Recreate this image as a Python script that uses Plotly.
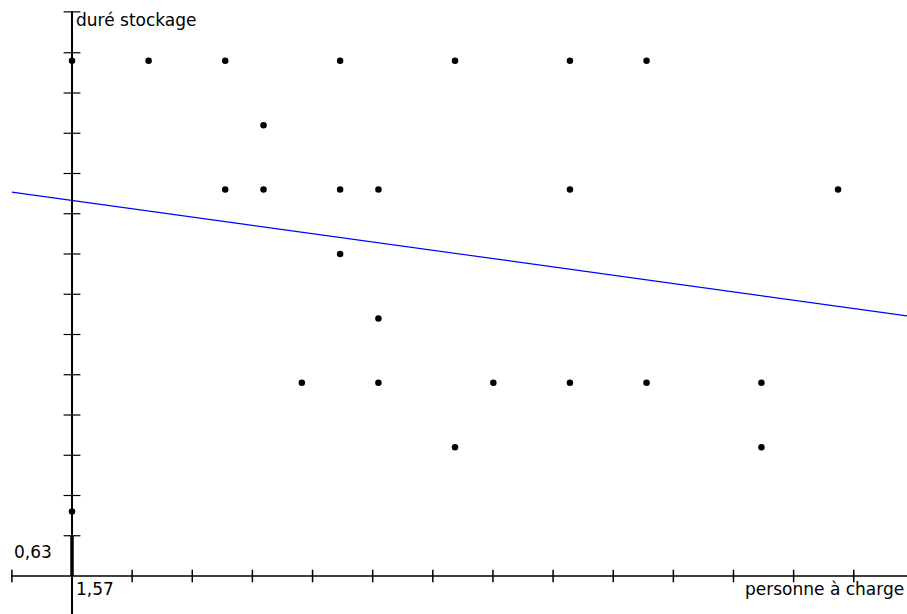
import plotly.graph_objects as go

# ---- data ----
pers_charge = [0, 2, 4, 7, 10, 13, 15,
               5,
               4, 5, 7, 8, 13, 20,
               7,
               8,
               6, 8, 11, 13, 15, 18,
               10, 18,
               0]
duree_stockage = [8, 8, 8, 8, 8, 8, 8,
                  7,
                  6, 6, 6, 6, 6, 6,
                  5,
                  4,
                  3, 3, 3, 3, 3, 3,
                  2, 2,
                  1]

x_tick_step = 1.57
y_tick_step = 0.625
x_tick_label = "1,57"
y_tick_label = "0,63"
x_title = "personne à charge"
y_title = "duré stockage"

trend_intercept = 5.832
trend_slope = -0.0822

# ---- layout constants ----
x_range = [-1.88, 21.80]
y_range = [-0.59, 8.944]
y_axis_top = 8.76
n_x_ticks = 13
n_y_ticks = 13

FONT = "DejaVu Sans"
FS = 17

fig = go.Figure()

# regression line
tx = [-x_tick_step, x_range[1]]
ty = [trend_intercept + trend_slope * v for v in tx]
fig.add_trace(go.Scatter(x=tx, y=ty, mode="lines",
                         line=dict(color="#0000FF", width=1.2),
                         hoverinfo="skip"))

# axes lines
fig.add_trace(go.Scatter(x=[-x_tick_step, x_range[1]], y=[0, 0], mode="lines",
                         line=dict(color="black", width=1.4), hoverinfo="skip"))
fig.add_trace(go.Scatter(x=[0, 0], y=[y_range[0], y_axis_top], mode="lines",
                         line=dict(color="black", width=2), hoverinfo="skip"))
# thick unit segment
fig.add_trace(go.Scatter(x=[0, 0], y=[0, y_tick_step], mode="lines",
                         line=dict(color="black", width=3.5), hoverinfo="skip"))

# x ticks (crossing)
xt = [-x_tick_step] + [k * x_tick_step for k in range(1, n_x_ticks + 1)]
fig.add_trace(go.Scatter(x=xt, y=[0] * len(xt), mode="markers",
                         marker=dict(symbol="line-ns", size=9,
                                     line=dict(color="black", width=1.5)),
                         hoverinfo="skip"))
# y ticks (crossing)
yt = [k * y_tick_step for k in range(1, n_y_ticks + 1)] + [y_axis_top]
fig.add_trace(go.Scatter(x=[0] * len(yt), y=yt, mode="markers",
                         marker=dict(symbol="line-ew", size=12,
                                     line=dict(color="black", width=1.2)),
                         hoverinfo="skip"))

# data points
fig.add_trace(go.Scatter(x=pers_charge, y=duree_stockage, mode="markers",
                         marker=dict(symbol="circle", size=6.5, color="black"),
                         hoverinfo="x+y"))

ann = dict(showarrow=False, xref="x", yref="y",
           font=dict(family=FONT, size=FS, color="black"))
fig.add_annotation(text=y_title, x=0.05, y=8.63, xanchor="left", yanchor="middle", **ann)
fig.add_annotation(text=y_tick_label, x=-1.56, y=0.37, xanchor="left", yanchor="middle", **ann)
fig.add_annotation(text=x_tick_label, x=0.05, y=-0.20, xanchor="left", yanchor="middle", **ann)
fig.add_annotation(text=x_title, x=21.78, y=-0.20, xanchor="right", yanchor="middle", **ann)

fig.update_layout(
    width=907, height=614, autosize=False,
    margin=dict(l=0, r=0, t=0, b=0),
    paper_bgcolor="white", plot_bgcolor="white",
    showlegend=False,
    xaxis=dict(range=x_range, visible=False, fixedrange=True),
    yaxis=dict(range=y_range, visible=False, fixedrange=True),
)

fig.write_html("out.html", config={"displayModeBar": False},
               post_script="document.body.style.margin='0';document.body.style.overflow='hidden';")
